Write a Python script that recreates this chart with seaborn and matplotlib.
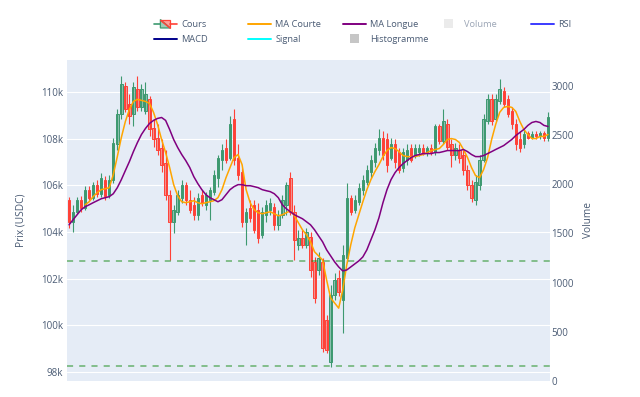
import matplotlib
matplotlib.use("Agg")
import matplotlib.pyplot as plt
import matplotlib.ticker as mticker
from matplotlib.colors import to_rgba
from matplotlib.lines import Line2D
from matplotlib.patches import Polygon, Rectangle
from matplotlib.legend_handler import HandlerBase
import numpy as np
import pandas as pd
import seaborn as sns

# OHLC (USDC)
opens = [105390, 104440, 104870, 105390, 105040, 105820, 105475, 106035, 105645, 106250,
         105605, 106250, 107760, 109050, 110260, 109480, 109050, 110130, 109355, 109180,
         109700, 108490, 108060, 107630, 106985, 105605, 104440, 104870, 105475, 106035,
         105390, 105170, 104740, 105605, 105170, 105390, 105735, 106335, 107110, 107630,
         107200, 108835, 107200, 106595, 104440, 105040, 105170, 104955, 103880, 104740,
         104955, 105085, 104310, 104740, 105170, 106335, 104870, 103450, 103750, 103450,
         103790, 102715, 102370, 102715, 100215, 98400, 101295, 102030, 101080, 102885,
         105475, 104955, 105300, 105820, 106165, 106595, 107025, 107545, 108060, 107975,
         107200, 107760, 107455, 106770, 107110, 107630, 107330, 107455, 107630, 107415,
         107630, 107455, 108535, 107890, 108620, 107760, 107330, 107545, 107330, 106680,
         106035, 105390, 106035, 107110, 108750, 109700, 108835, 109610, 110045, 109700,
         109180, 108620, 107975, 107760, 108235, 108060, 108190, 108105, 108235, 108060]
highs = [105520, 105170, 105520, 105560, 105990, 105990, 106165, 106250, 106550, 106425,
         106465, 108060, 109265, 110690, 110430, 109915, 110430, 110690, 110345, 110430,
         109830, 108835, 108620, 107975, 107545, 105820, 105170, 105820, 106250, 106165,
         105820, 105520, 105690, 105820, 105735, 105950, 106680, 107330, 107760, 107975,
         108965, 109265, 107760, 106770, 105040, 105390, 105390, 105260, 105085, 105390,
         105475, 105260, 104955, 105605, 106165, 106595, 105170, 104095, 104095, 104180,
         104010, 102930, 103150, 102885, 100430, 101725, 102240, 102370, 103450, 106120,
         105605, 105605, 106120, 106465, 106895, 107330, 107845, 108405, 108320, 108275,
         108060, 107975, 107630, 107630, 107760, 107760, 107760, 107760, 107800, 107715,
         107760, 108620, 108620, 109265, 108835, 107975, 107845, 107760, 107545, 106895,
         106250, 106465, 107330, 109050, 109915, 109915, 109915, 110560, 110215, 109870,
         109355, 108835, 108320, 108405, 108360, 108320, 108320, 108360, 108360, 109140]
lows = [104180, 104010, 104785, 104870, 104955, 105390, 105390, 105520, 105520, 105390,
        105475, 106120, 107545, 108835, 109140, 108620, 108535, 109180, 109180, 109050,
        108105, 107670, 107330, 106595, 105390, 102800, 103965, 104740, 105260, 105170,
        104830, 104525, 104525, 105130, 104955, 104525, 105605, 105950, 106680, 106985,
        107110, 106895, 106250, 104225, 103450, 104440, 103965, 103535, 103750, 104440,
        104740, 104095, 104095, 104610, 104740, 104740, 102800, 103235, 103320, 103320,
        102070, 100950, 102155, 98835, 98790, 98190, 101080, 101250, 99655, 102715,
        104740, 104830, 105170, 105605, 106035, 106335, 106810, 107330, 107110, 106595,
        107110, 106770, 106550, 106595, 106895, 107025, 107200, 107285, 107330, 107285,
        107330, 107330, 107760, 107760, 107545, 106810, 107110, 106985, 106465, 105820,
        105300, 105170, 105820, 107025, 108620, 108580, 108750, 109480, 109355, 108920,
        108405, 107545, 107455, 107630, 107975, 107975, 107975, 108015, 107930, 107890]
closes = [104440, 104870, 105390, 105040, 105820, 105475, 106035, 105645, 106335, 105560,
          106250, 107845, 109050, 110345, 109265, 108965, 110215, 109355, 110130, 109915,
          108405, 107975, 107545, 106895, 105605, 104440, 104955, 105605, 106035, 105390,
          104955, 104740, 105475, 105260, 105605, 105820, 106465, 107200, 107545, 107110,
          108620, 107110, 106465, 104440, 104870, 104610, 104095, 103750, 104870, 105170,
          105260, 104310, 104740, 105390, 106035, 104870, 103665, 103750, 103450, 104010,
          102370, 101165, 102885, 99010, 98920, 101295, 101940, 101425, 103020, 105475,
          104870, 105390, 105905, 106250, 106680, 107110, 107630, 108060, 107330, 106895,
          107760, 107025, 106680, 107455, 107545, 107110, 107630, 107630, 107415, 107630,
          107455, 108535, 107890, 108750, 107670, 107330, 107630, 107200, 106680, 106035,
          105475, 106165, 107110, 108835, 109700, 108750, 109700, 110130, 109480, 109050,
          108620, 107760, 107630, 108190, 108060, 108190, 108105, 108235, 108060, 108920]

nan = np.nan
ma_courte = [nan, nan, nan, nan, 105170, 105300, 105520, 105690, 105820, 105860,
             105905, 106465, 107240, 108060, 108750, 109265, 109610, 109700, 109655, 109610,
             109525, 109140, 108620, 107975, 107415, 106770, 106035, 105560, 105300, 105260,
             105300, 105345, 105260, 105215, 105260, 105300, 105345, 105475, 105820, 106335,
             106770, 107200, 107330, 106895, 105820, 105260, 104955, 104830, 104785, 104830,
             104870, 104785, 104700, 104740, 104830, 104910, 104700, 104395, 104095, 103880,
             103580, 103150, 102975, 102800, 101940, 101165, 100950, 100730, 101510, 102585,
             103450, 104180, 104740, 105300, 105820, 106250, 106595, 106895, 107240, 107500,
             107630, 107585, 107455, 107285, 107240, 107240, 107240, 107285, 107330, 107415,
             107500, 107545, 107585, 107760, 107975, 108015, 107975, 107845, 107545, 107200,
             106770, 106425, 106335, 106680, 107200, 107975, 108620, 109140, 109355, 109395,
             109355, 109180, 108750, 108405, 108190, 108015, 108015, 108105, 108105, 108190]
ma_longue = [104310, 104525, 104740, 104955, 105085, 105170, 105260, 105345, 105430, 105475,
             105520, 105645, 105905, 106250, 106640, 107025, 107455, 107845, 108190, 108450,
             108665, 108795, 108880, 108920, 108795, 108405, 107975, 107630, 107330, 107070,
             106770, 106380, 106080, 105820, 105605, 105475, 105390, 105300, 105390, 105605,
             105820, 105950, 106035, 106035, 105990, 105990, 105950, 105905, 105820, 105775,
             105735, 105645, 105475, 105170, 105000, 104870, 104740, 104655, 104570, 104440,
             104310, 104095, 103835, 103580, 103235, 102975, 102715, 102500, 102330, 102370,
             102500, 102630, 102760, 102930, 103235, 103665, 104095, 104610, 105260, 105820,
             106250, 106550, 106770, 106940, 107070, 107200, 107285, 107330, 107370, 107370,
             107370, 107415, 107415, 107455, 107500, 107500, 107500, 107500, 107545, 107455,
             107330, 107240, 107240, 107285, 107370, 107455, 107545, 107630, 107715, 107845,
             107975, 108145, 108275, 108405, 108580, 108705, 108750, 108705, 108580, 108535]

support_levels = [102770, 98230]
price_ticks = [98000, 100000, 102000, 104000, 106000, 108000, 110000]
volume_ticks = [0, 500, 1000, 1500, 2000, 2500, 3000]

UP = "#3D9970"
DOWN = "#FF4136"
TICK = "#4a5b74"

sns.set_theme(style="darkgrid", rc={"axes.facecolor": "#E5ECF6",
                                    "grid.color": "white",
                                    "grid.linewidth": 0.8})
plt.rcParams["font.family"] = ["Open Sans", "DejaVu Sans"]

df = pd.DataFrame({"open": opens, "high": highs, "low": lows, "close": closes,
                   "ma_courte": ma_courte, "ma_longue": ma_longue})
df["idx"] = np.arange(len(df))

fig = plt.figure(figsize=(6.4, 3.97), dpi=100)
ax = fig.add_axes([67 / 640, 1 - 381 / 397, 483 / 640, 321 / 397])

# candles
up = (df["close"] >= df["open"]).to_numpy()
cols = np.where(up, UP, DOWN)
ax.vlines(df["idx"], df["low"], df["high"], colors=cols, lw=0.8, zorder=2)
ax.bar(df["idx"], (df["close"] - df["open"]).abs(),
       bottom=df[["open", "close"]].min(axis=1), width=0.6,
       color=[to_rgba(c, 0.5) for c in cols], edgecolor=cols,
       linewidth=0.7, zorder=3)

sns.lineplot(data=df, x="idx", y="ma_courte", color="orange", lw=1.1, ax=ax, zorder=4)
sns.lineplot(data=df, x="idx", y="ma_longue", color="purple", lw=1.1, ax=ax, zorder=4)

for lvl in support_levels:
    ax.axhline(lvl, color="green", alpha=0.55, lw=1.1, ls=(0, (4, 4)), zorder=5)

ax.set_xlim(-0.5, len(df) - 0.5)
ax.set_ylim(97600, 111390)
ax.set_yticks(price_ticks)
ax.yaxis.set_major_formatter(mticker.FuncFormatter(lambda v, p: f"{v / 1000:.0f}k"))
ax.set_xticks([])
ax.set_xlabel("")
ax.grid(axis="x", visible=False)
ax.tick_params(axis="y", colors=TICK, labelsize=7, pad=3, length=0)
for s in ax.spines.values():
    s.set_visible(False)
ax.set_ylabel("Prix (USDC)", color=TICK, fontsize=7.3)
ax.yaxis.set_label_coords(-0.083, 0.5)

ax2 = ax.twinx()
ax2.set_ylim(0, 3260)
ax2.set_yticks(volume_ticks)
ax2.grid(False)
ax2.tick_params(axis="y", colors=TICK, labelsize=7, pad=1, length=0)
for s in ax2.spines.values():
    s.set_visible(False)
ax2.set_ylabel("Volume", color=TICK, fontsize=7.3)
ax2.yaxis.set_label_coords(1.068, 0.5)


class CandleIcon(HandlerBase):
    def create_artists(self, legend, orig_handle, xd, yd, w, h, fontsize, trans):
        x0, y0 = -xd, -yd
        ym = y0 + h / 2
        bx0, bx1 = x0 + 0.28 * w, x0 + 0.72 * w
        by0, by1 = y0 - 0.15 * h, y0 + 1.15 * h
        arts = [Line2D([x0, bx0], [ym, ym], color=UP, lw=1.2),
                Line2D([bx1, x0 + w], [ym, ym], color=DOWN, lw=1.2),
                Polygon([(bx0, by0), (bx1, by0), (bx0, by1)], closed=True,
                        fc=to_rgba(UP, 0.5), ec=UP, lw=0.9),
                Polygon([(bx1, by0), (bx1, by1), (bx0, by1)], closed=True,
                        fc=to_rgba(DOWN, 0.5), ec=DOWN, lw=0.9)]
        for a in arts:
            a.set_transform(trans)
        return arts


class SquareIcon(HandlerBase):
    def create_artists(self, legend, orig_handle, xd, yd, w, h, fontsize, trans):
        s = 6.5
        cx, cy = -xd + w / 2, -yd + h / 2
        r = Rectangle((cx - s / 2, cy - s / 2), s, s,
                      fc=orig_handle.get_facecolor(), ec="none", transform=trans)
        return [r]


h_cours = Rectangle((0, 0), 1, 1)
h_ma_c = Line2D([], [], color="orange", lw=1.4)
h_ma_l = Line2D([], [], color="purple", lw=1.4)
h_vol = Rectangle((0, 0), 1, 1, fc="#ebebeb")
h_rsi = Line2D([], [], color="#3b3bff", lw=1.4)
h_macd = Line2D([], [], color="darkblue", lw=1.4)
h_sig = Line2D([], [], color="cyan", lw=1.4)
h_hist = Rectangle((0, 0), 1, 1, fc="#c6c6c6")
hmap = {h_cours: CandleIcon(), h_vol: SquareIcon(), h_hist: SquareIcon()}

columns = [(154, [h_cours, h_macd], ["Cours", "MACD"]),
           (248, [h_ma_c, h_sig], ["MA Courte", "Signal"]),
           (343, [h_ma_l, h_hist], ["MA Longue", "Histogramme"]),
           (437, [h_vol], ["Volume"]),
           (531, [h_rsi], ["RSI"])]
for x, hs, labs in columns:
    leg = fig.legend(hs, labs, loc="upper left", bbox_to_anchor=(x / 640, 1 - 20 / 397),
                     frameon=False, borderpad=0, borderaxespad=0, fontsize=6.7,
                     handlelength=2.45, handletextpad=0.5, labelspacing=0.62,
                     handler_map=hmap, labelcolor=TICK)
    if labs[0] == "Volume":
        leg.get_texts()[0].set_color("#9ba5b5")

fig.savefig("out.png", dpi=100)
